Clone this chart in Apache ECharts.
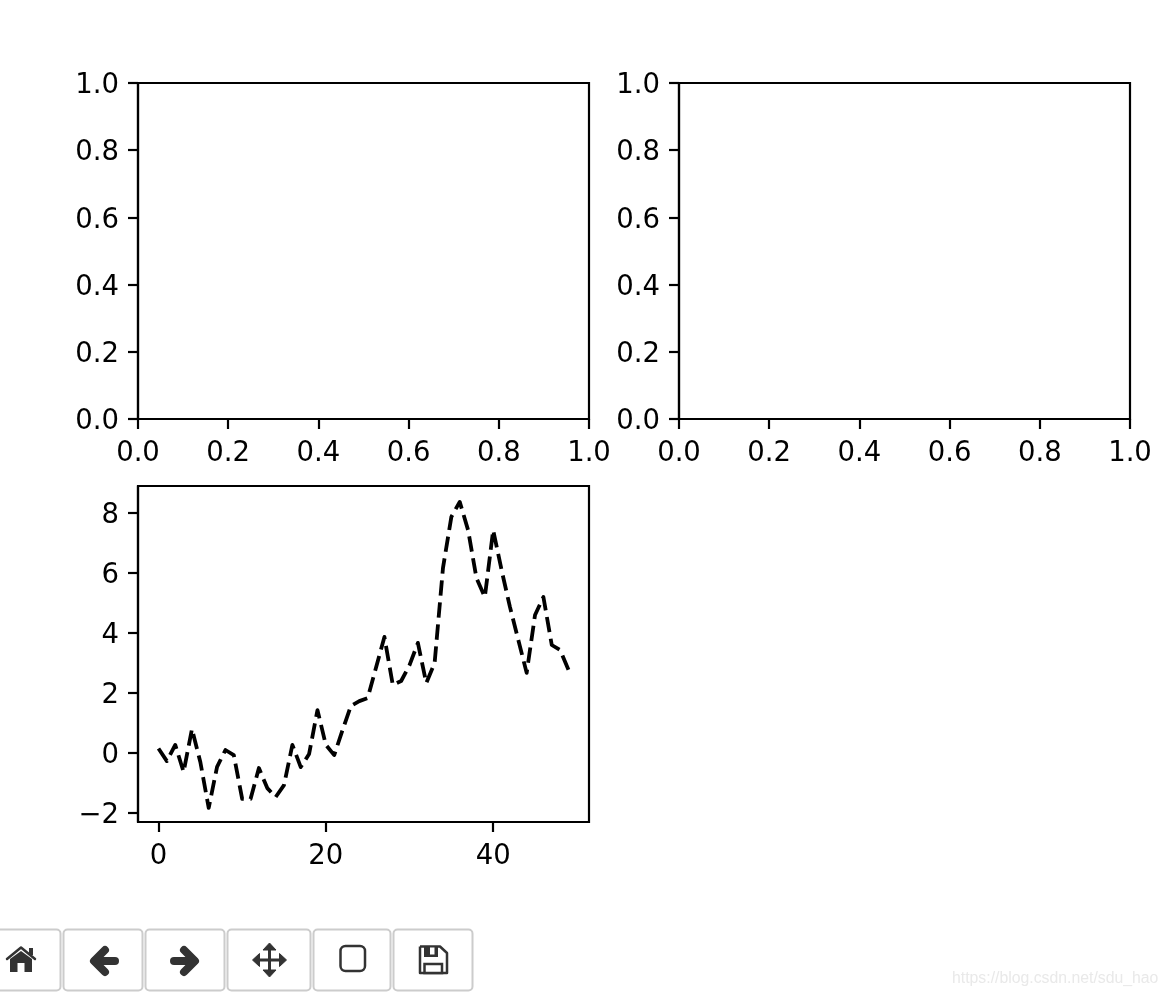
<!DOCTYPE html>
<html>
<head>
<meta charset="utf-8">
<style>html,body{margin:0;padding:0;background:#fff}#c{width:1168px;height:996px}</style>
<script src="https://cdn.jsdelivr.net/npm/echarts@6/dist/echarts.min.js"></script>
</head>
<body>
<div id="c"></div>
<script>
const unitTicks = [0, 0.2, 0.4, 0.6, 0.8, 1.0];
const lineX = [0,1,2,3,4,5,6,7,8,9,10,11,12,13,14,15,16,17,18,19,20,21,22,23,24,25,26,27,28,29,30,31,32,33,34,35,36,37,38,39,40,41,42,43,44,45,46,47,48,49];
const lineY = [0.15,-0.27,0.27,-0.63,0.8,-0.3,-1.83,-0.46,0.1,-0.07,-1.53,-1.53,-0.5,-1.17,-1.47,-1.07,0.27,-0.47,-0.03,1.43,0.27,-0.07,0.77,1.57,1.73,1.83,2.85,3.87,2.27,2.4,2.93,3.67,2.33,3.0,6.17,7.87,8.37,7.43,5.83,5.2,7.43,6.1,4.87,3.77,2.67,4.6,5.2,3.6,3.43,2.77];
const bottomXTicks = [0, 20, 40];
const bottomYTicks = [-2, 0, 2, 4, 6, 8];
const watermark = 'https://blog.csdn.net/sdu_hao';

const FONT = 'DejaVu Sans';
const fmtUnit = v => v.toFixed(1);
const fmtInt = v => String(Math.round(v)).replace('-', '\u2212');

function axis(kind, idx, min, max, ticks, fmt) {
  const isY = kind === 'y';
  return {
    type: 'value', gridIndex: idx, min, max,
    position: isY ? 'left' : 'bottom',
    splitLine: { show: false },
    axisLine: { show: true, onZero: false, lineStyle: { color: '#000', width: 2.2 } },
    axisTick: { show: true, customValues: ticks, length: 10, lineStyle: { color: '#000', width: 2.2 } },
    axisLabel: {
      customValues: ticks,
      formatter: isY ? (v => '{t|' + fmt(v) + '}') : fmt,
      rich: { t: { color: '#000', fontFamily: FONT, fontSize: 27.5, padding: [6, 0, 0, 0] } },
      color: '#000', fontFamily: FONT, fontSize: 27.5, hideOverlap: false,
      margin: isY ? 19 : 21,
      showMinLabel: true, showMaxLabel: true
    }
  };
}

const btn = (x, w) => ({ type: 'rect', shape: { x: x + 0.5, y: 929.5, width: w, height: 61, r: 4 },
  style: { fill: '#fff', stroke: '#ccc', lineWidth: 2 } });
const ink = '#333';
const poly = (pts, lw) => ({ type: 'polyline', shape: { points: pts },
  style: { fill: null, stroke: ink, lineWidth: lw, lineCap: 'round', lineJoin: 'round' } });

const chrome = [
  btn(-5, 65), btn(63, 79), btn(145, 79), btn(227, 83), btn(313, 77), btn(393, 79),
  // home
  { type: 'polygon', shape: { points: [[10,959],[21,951],[32,959],[32,972],[24.5,972],[24.5,963],[17.5,963],[17.5,972],[10,972]] }, style: { fill: ink } },
  poly([[7,959],[21,947.5],[35,959]], 2.5),
  { type: 'rect', shape: { x: 29, y: 948, width: 4, height: 7 }, style: { fill: ink } },
  // back
  poly([[115,961],[95,961]], 8), poly([[105,950],[94,961],[105,972]], 8),
  // forward
  poly([[174,961],[194,961]], 8), poly([[184,950],[195,961],[184,972]], 8),
  // move
  poly([[269.5,948],[269.5,971]], 3), poly([[256,960],[283,960]], 3),
  { type: 'polygon', shape: { points: [[269.5,943],[276,950],[263,950]] }, style: { fill: ink, stroke: ink, lineWidth: 1, lineJoin: 'round' } },
  { type: 'polygon', shape: { points: [[269.5,977],[276,970],[263,970]] }, style: { fill: ink, stroke: ink, lineWidth: 1, lineJoin: 'round' } },
  { type: 'polygon', shape: { points: [[252.5,960],[259.5,953.5],[259.5,966.5]] }, style: { fill: ink, stroke: ink, lineWidth: 1, lineJoin: 'round' } },
  { type: 'polygon', shape: { points: [[286.5,960],[279.5,953.5],[279.5,966.5]] }, style: { fill: ink, stroke: ink, lineWidth: 1, lineJoin: 'round' } },
  // zoom rectangle
  { type: 'rect', shape: { x: 340.5, y: 946, width: 24.5, height: 25, r: 5 }, style: { fill: null, stroke: ink, lineWidth: 2.5 } },
  // save
  { type: 'polyline', shape: { points: [[420,946.5],[440,946.5],[447,953],[447,973],[420,973],[420,946.5]] }, style: { fill: null, stroke: ink, lineWidth: 2.5, lineJoin: 'round' } },
  { type: 'rect', shape: { x: 424, y: 946, width: 14, height: 11 }, style: { fill: ink } },
  { type: 'rect', shape: { x: 430, y: 947.5, width: 4.5, height: 7 }, style: { fill: '#fff' } },
  { type: 'rect', shape: { x: 424.5, y: 964, width: 17.5, height: 9 }, style: { fill: '#fff', stroke: ink, lineWidth: 2.5 } },
  // watermark
  { type: 'text', x: 952, y: 971, style: { text: watermark, fill: '#e9e9e9', font: '15.8px "Liberation Sans"' } }
];

const chart = echarts.init(document.getElementById('c'), null, { renderer: 'canvas' });
const gridBox = (left, top) => ({ left, top, width: 451, height: 336, show: true, borderColor: '#000', borderWidth: 2.2, backgroundColor: '#fff' });
chart.setOption({
  animation: false,
  backgroundColor: '#fff',
  grid: [gridBox(138, 83), gridBox(679, 83), gridBox(138, 486)],
  xAxis: [
    axis('x', 0, 0, 1, unitTicks, fmtUnit),
    axis('x', 1, 0, 1, unitTicks, fmtUnit),
    axis('x', 2, -2.45, 51.45, bottomXTicks, fmtInt)
  ],
  yAxis: [
    axis('y', 0, 0, 1, unitTicks, fmtUnit),
    axis('y', 1, 0, 1, unitTicks, fmtUnit),
    axis('y', 2, -2.3, 8.9, bottomYTicks, fmtInt)
  ],
  series: [{
    type: 'line', xAxisIndex: 2, yAxisIndex: 2,
    data: lineX.map((x, i) => [x, lineY[i]]),
    showSymbol: false, smooth: false, silent: true,
    lineStyle: { color: '#000', width: 3.8, type: [15.4, 6.7], cap: 'butt', join: 'round' }
  }],
  graphic: { elements: chrome }
});
</script>
</body>
</html>
